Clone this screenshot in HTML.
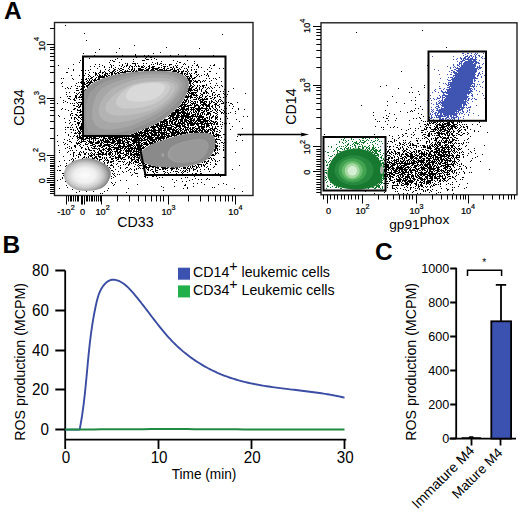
<!DOCTYPE html><html><head><meta charset="utf-8"><style>html,body{margin:0;padding:0;background:#fff;width:520px;height:515px;overflow:hidden;position:relative}</style></head><body><svg width="520" height="515" viewBox="0 0 520 515" style="position:absolute;left:0;top:0">
<defs><radialGradient id="sg" cx="0.45" cy="0.52" r="0.52"><stop offset="0" stop-color="#fdfdfd"/><stop offset="0.45" stop-color="#efefef"/><stop offset="0.72" stop-color="#cdcdcd"/><stop offset="0.9" stop-color="#a5a5a5"/><stop offset="1" stop-color="#868686"/></radialGradient>
<clipPath id="gclip"><rect x="83" y="56.5" width="142.5" height="79.5"/></clipPath></defs>
<rect width="520" height="515" fill="#fff"/>
<filter id="bl" x="0" y="0" width="1" height="1"><feGaussianBlur stdDeviation="0.35"/></filter>
<g transform="translate(0,0.5)" stroke-width="1" shape-rendering="crispEdges" fill="none" filter="url(#bl)">
<path d="M65 25h1M84 33h1M222 34h1M86 40h1M134 45h1M166 47h1M119 48h1M199 48h1M99 49h1M95 52h1M116 52h1M160 52h1M83 53h1M153 53h1M135 54h1M178 54h1M94 55h1M122 55h1M135 55h1M144 55h1M148 55h1M170 55h1M185 55h1M213 55h1M139 56h1M179 56h1M136 57h1M146 57h1M150 57h2M89 58h1M117 58h1M145 58h1M154 58h1M115 59h1M121 59h1M133 59h1M146 59h3M151 59h1M156 59h1M80 60h1M110 60h1M112 60h1M142 60h3M173 60h1M187 60h1M113 61h2M133 61h1M161 61h1M177 61h1M194 61h1M79 62h1M109 62h1M119 62h1M152 62h1M157 62h1M179 62h2M82 63h1M125 63h1M127 63h1M132 63h4M137 63h1M143 63h1M146 63h1M155 63h1M157 63h1M160 63h2M176 63h1M184 63h1M194 63h1M73 64h1M95 64h1M99 64h1M110 64h1M122 64h1M127 64h1M135 64h1M151 64h1M153 64h1M157 64h1M159 64h1M163 64h1M165 64h1M169 64h3M183 64h1M185 64h1M197 64h1M214 64h1M58 65h1M102 65h1M111 65h1M113 65h1M119 65h1M122 65h1M126 65h2M130 65h1M135 65h1M138 65h1M143 65h1M149 65h1M161 65h1M169 65h1M175 65h1M177 65h1M192 65h1M196 65h2M210 65h1M213 65h2M90 66h1M94 66h1M99 66h1M104 66h1M111 66h1M121 66h1M124 66h1M126 66h1M129 66h1M131 66h2M134 66h1M136 66h1M138 66h2M141 66h2M144 66h1M148 66h2M152 66h3M163 66h3M167 66h1M173 66h1M176 66h1M182 66h1M188 66h1M198 66h1M104 67h1M109 67h1M111 67h1M115 67h1M123 67h1M129 67h1M132 67h1M141 67h3M146 67h1M149 67h1M151 67h3M158 67h2M161 67h1M164 67h1M170 67h2M173 67h1M176 67h2M181 67h1M188 67h1M191 67h1M198 67h1M201 67h1M209 67h1M68 68h1M97 68h1M113 68h1M118 68h1M120 68h2M128 68h1M132 68h1M134 68h1M138 68h3M145 68h1M148 68h2M152 68h7M163 68h2M167 68h2M172 68h1M174 68h1M179 68h1M184 68h1M186 68h1M211 68h1M219 68h1M223 68h1M73 69h1M90 69h1M105 69h1M109 69h1M114 69h2M119 69h1M122 69h2M129 69h1M131 69h2M134 69h1M138 69h6M146 69h3M151 69h3M155 69h3M159 69h4M164 69h1M166 69h1M170 69h3M174 69h1M177 69h2M180 69h1M187 69h1M191 69h1M194 69h1M196 69h1M207 69h1M73 70h1M81 70h1M85 70h1M88 70h1M100 70h1M108 70h1M113 70h2M117 70h1M120 70h2M125 70h1M127 70h1M131 70h1M133 70h2M136 70h1M138 70h5M144 70h5M150 70h5M157 70h14M173 70h4M178 70h1M183 70h1M187 70h1M191 70h1M100 71h1M104 71h1M109 71h1M112 71h2M115 71h1M119 71h1M122 71h1M124 71h7M132 71h2M135 71h3M172 71h5M178 71h2M181 71h3M185 71h2M188 71h1M195 71h2M204 71h1M209 71h2M66 72h2M89 72h1M93 72h1M95 72h1M99 72h2M102 72h2M105 72h1M110 72h3M114 72h1M117 72h2M120 72h6M177 72h2M181 72h2M187 72h1M195 72h2M85 73h1M95 73h2M98 73h1M102 73h1M105 73h3M109 73h1M111 73h2M114 73h3M118 73h2M180 73h3M184 73h2M187 73h1M189 73h1M191 73h1M194 73h1M207 73h1M216 73h1M82 74h1M88 74h1M95 74h2M99 74h1M104 74h2M107 74h1M111 74h2M115 74h1M182 74h1M184 74h1M186 74h2M190 74h1M196 74h1M198 74h1M204 74h1M207 74h1M71 75h1M79 75h1M84 75h1M89 75h1M95 75h1M97 75h1M99 75h2M102 75h1M104 75h3M108 75h2M111 75h1M185 75h1M190 75h2M197 75h1M201 75h1M206 75h1M208 75h1M83 76h1M88 76h1M90 76h1M93 76h1M98 76h7M106 76h2M186 76h3M190 76h2M196 76h1M199 76h1M208 76h1M91 77h2M96 77h1M98 77h7M187 77h1M189 77h1M191 77h1M194 77h2M219 77h1M61 78h1M63 78h1M72 78h1M83 78h1M86 78h1M88 78h1M90 78h2M95 78h1M98 78h2M187 78h4M192 78h3M206 78h1M209 78h1M213 78h1M215 78h1M73 79h1M81 79h1M83 79h1M85 79h2M89 79h1M92 79h1M94 79h2M97 79h3M188 79h2M192 79h1M216 79h1M87 80h1M89 80h1M91 80h1M93 80h4M188 80h4M193 80h1M195 80h1M198 80h2M203 80h1M205 80h1M211 80h1M81 81h1M83 81h1M86 81h1M88 81h1M90 81h2M94 81h1M189 81h3M194 81h4M200 81h1M202 81h1M204 81h1M209 81h1M221 81h1M62 82h1M78 82h1M80 82h2M84 82h1M87 82h6M189 82h2M193 82h1M196 82h2M200 82h1M61 83h1M76 83h1M81 83h1M84 83h1M86 83h2M89 83h2M189 83h2M192 83h1M210 83h1M216 83h1M83 84h3M88 84h2M190 84h1M193 84h1M206 84h1M75 85h1M86 85h3M190 85h2M194 85h1M197 85h1M199 85h1M202 85h3M206 85h1M215 85h1M217 85h1M221 85h1M62 86h1M71 86h1M77 86h1M79 86h1M81 86h1M84 86h1M86 86h2M189 86h2M192 86h2M197 86h1M200 86h1M202 86h2M210 86h1M222 86h1M67 87h1M84 87h1M87 87h1M189 87h1M191 87h2M196 87h1M199 87h1M203 87h1M205 87h1M208 87h1M211 87h1M214 87h1M219 87h1M65 88h1M68 88h1M70 88h1M76 88h2M81 88h3M188 88h4M195 88h2M199 88h1M202 88h1M207 88h1M209 88h1M212 88h1M233 88h1M80 89h4M85 89h1M188 89h4M193 89h2M197 89h1M199 89h1M201 89h1M206 89h1M224 89h2M76 90h3M84 90h2M188 90h5M194 90h4M201 90h1M205 90h1M211 90h1M216 90h1M81 91h3M187 91h2M190 91h1M197 91h1M201 91h1M205 91h2M211 91h1M220 91h1M223 91h1M228 91h1M66 92h1M69 92h1M74 92h1M79 92h1M81 92h1M188 92h2M191 92h6M203 92h2M206 92h2M213 92h2M76 93h1M78 93h1M82 93h1M187 93h1M189 93h5M195 93h1M200 93h1M203 93h2M206 93h1M208 93h1M212 93h1M223 93h1M245 93h1M66 94h1M77 94h1M80 94h2M188 94h1M191 94h4M196 94h1M201 94h2M212 94h1M215 94h1M218 94h2M224 94h1M227 94h1M75 95h2M80 95h1M82 95h1M186 95h1M188 95h1M190 95h2M193 95h5M200 95h1M202 95h1M207 95h1M212 95h1M214 95h1M217 95h1M67 96h1M69 96h2M75 96h2M79 96h1M81 96h1M185 96h7M196 96h1M199 96h1M202 96h1M205 96h2M209 96h2M217 96h1M219 96h1M225 96h2M60 97h1M75 97h2M78 97h5M185 97h4M190 97h3M194 97h2M197 97h1M199 97h3M205 97h1M212 97h1M214 97h2M220 97h1M223 97h1M225 97h1M68 98h2M74 98h1M76 98h1M187 98h1M190 98h1M196 98h1M198 98h2M202 98h1M204 98h1M206 98h2M210 98h2M214 98h1M70 99h1M73 99h2M79 99h1M81 99h2M184 99h1M186 99h2M193 99h4M198 99h1M200 99h8M213 99h1M219 99h2M63 100h1M74 100h2M184 100h3M188 100h1M190 100h1M199 100h2M202 100h2M211 100h1M215 100h1M218 100h1M221 100h1M65 101h1M82 101h1M183 101h1M185 101h2M188 101h1M191 101h2M194 101h2M197 101h1M200 101h3M204 101h3M209 101h1M211 101h2M216 101h1M218 101h1M220 101h1M222 101h1M63 102h1M67 102h1M76 102h1M78 102h5M182 102h4M188 102h1M190 102h1M193 102h1M195 102h1M197 102h1M200 102h5M206 102h1M209 102h1M211 102h1M213 102h2M217 102h1M223 102h1M226 102h1M228 102h1M237 102h1M57 103h1M70 103h1M72 103h1M74 103h1M77 103h1M81 103h1M182 103h1M184 103h1M187 103h1M191 103h5M200 103h1M203 103h3M209 103h2M215 103h2M221 103h3M225 103h1M230 103h2M78 104h1M80 104h3M181 104h6M190 104h1M192 104h1M194 104h1M196 104h2M201 104h6M208 104h2M214 104h3M219 104h1M232 104h1M73 105h2M78 105h1M80 105h1M82 105h1M180 105h3M184 105h2M187 105h5M194 105h5M200 105h1M202 105h2M205 105h5M212 105h1M215 105h1M217 105h2M229 105h1M76 106h2M79 106h2M179 106h3M183 106h6M194 106h2M198 106h2M203 106h1M206 106h4M211 106h2M215 106h1M219 106h1M224 106h1M233 106h1M78 107h2M178 107h1M181 107h4M188 107h1M190 107h5M198 107h2M201 107h2M206 107h1M209 107h1M212 107h1M215 107h1M219 107h1M62 108h1M74 108h2M82 108h1M179 108h1M181 108h4M186 108h3M191 108h1M193 108h1M195 108h13M209 108h2M213 108h1M216 108h1M224 108h1M226 108h1M232 108h1M238 108h1M61 109h1M65 109h1M73 109h2M77 109h1M80 109h1M176 109h3M180 109h9M190 109h5M196 109h5M205 109h2M208 109h1M210 109h1M214 109h2M217 109h1M221 109h1M225 109h1M238 109h1M244 109h1M68 110h1M77 110h4M82 110h1M175 110h6M182 110h2M185 110h2M188 110h1M191 110h1M193 110h1M195 110h1M197 110h3M201 110h2M204 110h1M206 110h3M212 110h1M215 110h1M217 110h1M219 110h1M223 110h1M71 111h1M80 111h2M175 111h4M181 111h4M187 111h1M190 111h1M193 111h1M195 111h2M198 111h2M203 111h2M206 111h1M210 111h2M216 111h1M220 111h1M224 111h1M235 111h1M77 112h1M79 112h2M82 112h1M172 112h14M187 112h1M189 112h1M191 112h1M193 112h2M196 112h1M198 112h1M201 112h3M207 112h3M213 112h2M217 112h1M221 112h2M224 112h1M230 112h1M71 113h2M82 113h1M171 113h5M177 113h4M182 113h8M191 113h1M195 113h1M197 113h2M200 113h1M202 113h1M204 113h1M207 113h4M215 113h2M221 113h1M223 113h1M226 113h1M228 113h1M235 113h1M70 114h1M75 114h2M80 114h3M171 114h5M177 114h2M181 114h1M183 114h2M186 114h4M192 114h4M197 114h2M200 114h1M202 114h1M204 114h1M206 114h3M210 114h1M217 114h1M58 115h1M70 115h1M72 115h1M76 115h2M79 115h4M169 115h6M176 115h4M181 115h8M191 115h3M195 115h1M197 115h1M199 115h3M206 115h1M210 115h1M213 115h1M216 115h1M59 116h1M78 116h1M82 116h1M168 116h1M170 116h4M176 116h3M180 116h24M209 116h1M212 116h2M215 116h1M217 116h1M225 116h2M243 116h1M247 116h1M71 117h1M74 117h2M78 117h2M81 117h1M169 117h2M172 117h8M181 117h3M185 117h6M192 117h1M196 117h1M198 117h6M206 117h2M209 117h1M211 117h2M215 117h3M64 118h1M71 118h1M74 118h1M76 118h1M80 118h1M168 118h3M172 118h2M175 118h3M181 118h3M185 118h1M187 118h2M190 118h3M194 118h1M197 118h3M202 118h1M204 118h2M207 118h1M209 118h1M211 118h1M215 118h2M220 118h1M225 118h1M227 118h1M74 119h1M77 119h1M81 119h2M164 119h4M170 119h2M173 119h5M179 119h4M184 119h3M189 119h3M193 119h2M197 119h9M209 119h1M215 119h1M217 119h1M220 119h1M236 119h1M69 120h1M78 120h1M82 120h1M163 120h4M169 120h2M172 120h3M176 120h1M178 120h1M180 120h3M184 120h5M190 120h5M196 120h5M203 120h6M210 120h2M225 120h1M74 121h2M80 121h1M82 121h1M160 121h8M169 121h4M175 121h2M178 121h1M180 121h3M184 121h3M188 121h4M193 121h1M195 121h2M198 121h10M209 121h1M211 121h3M215 121h2M220 121h1M239 121h1M65 122h1M70 122h1M77 122h3M160 122h5M166 122h2M169 122h1M171 122h2M174 122h2M178 122h3M182 122h3M186 122h2M189 122h4M194 122h2M197 122h1M200 122h4M205 122h1M207 122h1M210 122h1M213 122h3M217 122h1M222 122h1M69 123h1M77 123h3M81 123h2M157 123h2M160 123h1M162 123h1M164 123h4M169 123h1M171 123h2M174 123h2M177 123h8M187 123h16M204 123h9M214 123h1M216 123h2M224 123h1M226 123h1M229 123h1M72 124h1M75 124h1M78 124h1M81 124h2M155 124h4M160 124h5M166 124h2M170 124h1M172 124h6M179 124h1M181 124h2M184 124h2M187 124h2M190 124h5M196 124h3M201 124h4M206 124h3M211 124h1M213 124h2M216 124h2M220 124h1M222 124h1M71 125h1M78 125h1M81 125h2M153 125h1M156 125h7M164 125h8M175 125h6M182 125h3M187 125h2M190 125h4M197 125h2M201 125h1M204 125h1M206 125h4M211 125h1M76 126h1M80 126h3M151 126h7M159 126h8M171 126h3M176 126h5M182 126h4M188 126h1M195 126h1M198 126h7M206 126h3M212 126h1M215 126h1M217 126h2M221 126h1M232 126h1M65 127h1M67 127h2M70 127h1M72 127h1M76 127h1M79 127h4M148 127h1M150 127h6M157 127h2M160 127h2M163 127h1M165 127h7M174 127h3M179 127h2M184 127h5M190 127h1M192 127h3M198 127h2M201 127h4M206 127h1M209 127h1M212 127h1M215 127h1M77 128h1M79 128h4M145 128h4M152 128h3M158 128h8M167 128h5M173 128h1M175 128h1M178 128h1M180 128h2M183 128h1M185 128h1M187 128h1M189 128h2M192 128h2M195 128h5M201 128h3M210 128h3M214 128h3M221 128h1M242 128h1M65 129h1M70 129h2M73 129h1M77 129h1M80 129h3M143 129h1M145 129h3M149 129h1M151 129h1M153 129h3M158 129h4M164 129h2M167 129h8M176 129h2M179 129h2M182 129h2M185 129h4M190 129h3M194 129h1M196 129h2M199 129h2M202 129h3M206 129h1M208 129h3M212 129h3M217 129h1M230 129h1M73 130h1M75 130h1M78 130h1M80 130h1M142 130h1M144 130h18M163 130h3M167 130h3M172 130h5M178 130h1M180 130h2M184 130h3M188 130h1M190 130h1M192 130h2M195 130h2M198 130h5M204 130h2M207 130h2M210 130h2M213 130h2M219 130h1M78 131h2M81 131h1M138 131h1M140 131h2M144 131h5M151 131h5M158 131h2M161 131h1M164 131h1M166 131h1M169 131h2M172 131h2M175 131h4M180 131h1M182 131h1M184 131h1M186 131h1M189 131h9M199 131h1M201 131h2M204 131h5M212 131h1M214 131h1M216 131h2M220 131h1M65 132h1M71 132h1M75 132h1M77 132h1M79 132h2M82 132h1M136 132h1M138 132h8M147 132h1M149 132h3M153 132h14M170 132h10M181 132h7M189 132h4M194 132h5M200 132h4M205 132h3M210 132h1M212 132h2M219 132h1M74 133h3M78 133h3M82 133h1M134 133h4M139 133h4M144 133h5M150 133h3M154 133h3M158 133h1M160 133h5M166 133h4M171 133h5M177 133h9M187 133h1M209 133h2M212 133h2M216 133h1M68 134h1M79 134h1M82 134h1M131 134h3M135 134h5M141 134h1M143 134h3M147 134h2M151 134h6M158 134h2M161 134h6M168 134h1M171 134h4M176 134h3M180 134h2M213 134h1M215 134h4M223 134h2M241 134h1M57 135h1M68 135h1M74 135h1M77 135h1M79 135h1M81 135h2M127 135h1M129 135h2M133 135h4M138 135h9M148 135h2M151 135h9M161 135h2M164 135h1M166 135h4M171 135h6M213 135h2M216 135h5M240 135h1M70 136h1M73 136h1M76 136h2M79 136h2M82 136h9M93 136h3M97 136h7M106 136h3M110 136h5M117 136h3M122 136h6M129 136h2M132 136h1M135 136h3M139 136h1M141 136h3M145 136h7M154 136h1M157 136h2M160 136h6M167 136h5M174 136h1M214 136h3M218 136h1M237 136h1M77 137h7M86 137h2M89 137h3M93 137h3M99 137h1M101 137h1M103 137h2M108 137h5M114 137h9M124 137h1M126 137h1M128 137h1M132 137h5M138 137h1M140 137h1M142 137h1M144 137h2M147 137h7M155 137h10M166 137h3M218 137h1M221 137h1M72 138h1M77 138h1M79 138h5M85 138h5M91 138h8M103 138h4M108 138h3M112 138h6M119 138h1M122 138h8M131 138h1M134 138h8M143 138h2M147 138h6M155 138h10M166 138h1M216 138h1M64 139h1M69 139h1M78 139h1M81 139h5M89 139h1M91 139h1M93 139h1M95 139h1M100 139h1M102 139h2M105 139h1M107 139h1M109 139h5M115 139h2M118 139h3M122 139h1M125 139h2M128 139h4M133 139h4M138 139h2M141 139h2M144 139h4M149 139h8M158 139h3M163 139h1M215 139h5M224 139h1M67 140h1M77 140h1M81 140h1M83 140h1M87 140h1M89 140h1M93 140h1M95 140h1M98 140h1M100 140h4M105 140h4M110 140h1M112 140h3M116 140h7M124 140h1M126 140h2M131 140h7M139 140h7M147 140h2M150 140h5M156 140h1M158 140h1M160 140h2M215 140h1M220 140h1M236 140h1M242 140h1M57 141h1M69 141h2M79 141h1M81 141h5M88 141h4M93 141h1M97 141h3M101 141h1M103 141h7M112 141h4M117 141h4M122 141h3M127 141h3M132 141h5M138 141h1M141 141h1M146 141h1M148 141h2M152 141h4M157 141h1M215 141h2M225 141h1M63 142h1M71 142h1M76 142h1M78 142h1M80 142h2M86 142h1M89 142h5M95 142h5M101 142h2M104 142h11M117 142h4M122 142h2M125 142h4M130 142h1M133 142h8M143 142h4M149 142h4M154 142h2M215 142h2M221 142h2M224 142h1M65 143h1M76 143h4M85 143h1M88 143h1M90 143h3M95 143h4M100 143h2M103 143h1M107 143h1M111 143h3M115 143h10M127 143h2M132 143h3M136 143h1M138 143h2M141 143h2M144 143h4M149 143h5M217 143h1M219 143h1M223 143h1M64 144h1M67 144h1M77 144h1M80 144h1M85 144h3M92 144h3M100 144h2M104 144h7M114 144h2M117 144h1M119 144h1M123 144h2M126 144h1M128 144h4M133 144h1M136 144h4M141 144h1M143 144h6M150 144h1M215 144h1M225 144h1M58 145h1M74 145h2M79 145h1M83 145h1M90 145h3M95 145h1M98 145h4M103 145h7M111 145h2M114 145h1M116 145h1M118 145h3M123 145h2M127 145h6M134 145h1M136 145h7M146 145h2M215 145h3M223 145h1M69 146h1M74 146h2M80 146h1M87 146h1M93 146h3M97 146h1M99 146h2M102 146h3M108 146h3M113 146h1M118 146h13M133 146h1M135 146h1M137 146h5M143 146h1M145 146h1M215 146h3M219 146h1M225 146h1M67 147h1M71 147h1M75 147h1M81 147h2M88 147h1M91 147h1M94 147h1M101 147h2M106 147h1M109 147h1M111 147h10M122 147h2M125 147h2M128 147h1M130 147h3M134 147h2M137 147h4M142 147h3M215 147h2M223 147h1M65 148h1M69 148h1M71 148h1M81 148h1M85 148h1M88 148h1M92 148h5M98 148h2M103 148h1M105 148h2M108 148h3M114 148h5M120 148h3M124 148h2M127 148h12M140 148h4M215 148h3M85 149h2M88 149h2M97 149h1M99 149h1M102 149h3M107 149h5M113 149h2M116 149h5M124 149h1M126 149h1M128 149h2M131 149h2M134 149h1M136 149h4M141 149h1M214 149h2M217 149h1M219 149h1M223 149h1M59 150h1M70 150h1M72 150h1M76 150h1M89 150h3M93 150h2M99 150h3M103 150h1M105 150h1M108 150h2M111 150h1M116 150h2M120 150h2M123 150h1M125 150h7M133 150h2M136 150h1M138 150h4M214 150h2M217 150h1M223 150h1M225 150h1M68 151h1M80 151h1M83 151h1M94 151h1M98 151h1M100 151h2M106 151h3M110 151h1M112 151h1M114 151h4M119 151h2M125 151h7M133 151h6M214 151h1M59 152h1M67 152h1M73 152h2M79 152h1M81 152h1M83 152h1M86 152h1M91 152h1M95 152h1M97 152h2M101 152h3M106 152h1M109 152h3M115 152h1M117 152h4M123 152h1M126 152h1M128 152h1M130 152h1M132 152h2M136 152h1M138 152h2M215 152h1M217 152h1M235 152h1M73 153h1M79 153h1M84 153h2M88 153h1M90 153h1M92 153h1M94 153h1M98 153h3M102 153h2M105 153h2M108 153h3M112 153h1M115 153h1M117 153h2M120 153h4M126 153h3M130 153h2M134 153h5M215 153h2M218 153h1M70 154h1M73 154h1M78 154h3M84 154h2M88 154h1M91 154h1M93 154h2M96 154h11M108 154h3M112 154h1M115 154h1M117 154h1M119 154h1M124 154h3M128 154h1M130 154h10M212 154h2M215 154h1M73 155h1M76 155h1M80 155h1M89 155h4M94 155h1M98 155h1M102 155h1M106 155h1M109 155h1M111 155h1M114 155h1M118 155h3M123 155h1M125 155h3M130 155h2M133 155h2M136 155h4M211 155h4M63 156h1M73 156h1M78 156h1M84 156h1M88 156h1M90 156h2M95 156h2M98 156h3M110 156h1M112 156h2M115 156h1M118 156h3M125 156h1M128 156h2M132 156h1M134 156h2M137 156h1M139 156h1M78 157h1M83 157h2M86 157h1M88 157h1M92 157h1M94 157h3M99 157h2M102 157h1M104 157h1M106 157h1M109 157h2M115 157h6M122 157h3M128 157h2M131 157h1M133 157h2M136 157h4M210 157h1M223 157h2M72 158h1M75 158h1M82 158h1M92 158h3M96 158h2M102 158h1M104 158h1M106 158h1M111 158h3M115 158h2M118 158h1M120 158h3M128 158h1M130 158h2M134 158h1M138 158h2M208 158h2M211 158h1M213 158h1M225 158h1M71 159h1M73 159h1M97 159h1M99 159h3M105 159h1M107 159h1M111 159h2M117 159h2M121 159h1M123 159h3M131 159h4M136 159h3M140 159h1M211 159h1M214 159h1M64 160h1M69 160h1M73 160h1M99 160h1M104 160h1M106 160h3M113 160h1M116 160h1M131 160h2M135 160h1M137 160h2M140 160h1M208 160h1M212 160h1M215 160h1M219 160h1M59 161h1M72 161h1M103 161h1M108 161h1M110 161h4M118 161h3M122 161h1M124 161h1M129 161h1M131 161h1M134 161h3M138 161h1M141 161h1M204 161h2M207 161h2M215 161h1M217 161h1M104 162h1M107 162h2M110 162h2M123 162h1M127 162h1M129 162h2M133 162h1M135 162h4M141 162h1M202 162h1M204 162h1M206 162h1M210 162h1M66 163h1M104 163h1M107 163h1M113 163h1M117 163h1M126 163h1M129 163h1M131 163h1M133 163h1M139 163h2M142 163h3M206 163h2M215 163h1M111 164h1M116 164h1M123 164h1M125 164h1M128 164h2M135 164h1M138 164h1M143 164h1M145 164h2M197 164h5M203 164h1M205 164h1M210 164h1M215 164h2M60 165h1M66 165h1M107 165h1M110 165h3M120 165h1M128 165h1M137 165h1M139 165h3M144 165h2M148 165h3M192 165h1M195 165h1M198 165h1M201 165h1M203 165h2M239 165h1M58 166h1M65 166h1M113 166h1M118 166h1M134 166h1M138 166h1M143 166h4M149 166h7M157 166h1M188 166h1M190 166h1M192 166h3M196 166h1M198 166h1M201 166h1M204 166h1M207 166h1M214 166h1M109 167h1M113 167h1M120 167h1M126 167h2M139 167h1M145 167h5M152 167h2M155 167h4M161 167h5M167 167h2M171 167h3M175 167h3M179 167h1M183 167h3M187 167h1M190 167h1M192 167h1M196 167h2M199 167h1M206 167h1M213 167h1M110 168h1M120 168h1M125 168h1M130 168h1M136 168h1M138 168h1M140 168h1M142 168h2M146 168h1M148 168h1M155 168h1M157 168h2M162 168h6M170 168h5M176 168h2M181 168h1M183 168h3M187 168h3M191 168h1M193 168h1M196 168h1M208 168h1M115 169h1M129 169h1M131 169h1M134 169h1M136 169h1M144 169h1M147 169h2M151 169h2M155 169h1M159 169h2M162 169h2M165 169h1M171 169h2M176 169h1M178 169h1M186 169h1M189 169h1M193 169h3M200 169h1M204 169h1M208 169h1M210 169h1M232 169h1M57 170h1M59 170h2M111 170h2M128 170h1M134 170h1M148 170h1M150 170h1M155 170h3M167 170h1M171 170h1M180 170h1M183 170h1M185 170h1M187 170h1M189 170h1M193 170h1M197 170h1M113 171h1M118 171h1M122 171h1M126 171h1M152 171h2M155 171h1M163 171h2M173 171h1M175 171h3M182 171h1M184 171h2M189 171h1M197 171h1M200 171h1M209 171h1M123 172h1M130 172h1M134 172h1M147 172h1M153 172h1M156 172h2M165 172h1M167 172h1M170 172h1M178 172h1M181 172h1M183 172h1M187 172h1M62 173h2M112 173h1M114 173h1M135 173h3M154 173h1M164 173h1M168 173h1M176 173h1M182 173h1M192 173h1M195 173h2M200 173h2M215 173h1M218 173h1M113 174h1M117 174h1M119 174h1M132 174h1M144 174h1M149 174h1M160 174h1M162 174h1M174 174h1M176 174h2M184 174h1M189 174h1M191 174h1M195 174h1M197 174h1M216 174h1M218 174h1M222 174h2M63 175h1M114 175h1M131 175h1M149 175h1M153 175h1M155 175h1M162 175h1M168 175h1M171 175h1M174 175h1M180 175h1M185 175h1M192 175h1M197 175h1M111 176h1M115 176h1M137 176h1M144 176h2M152 176h2M156 176h1M194 176h1M220 176h1M62 177h1M113 177h1M145 177h1M147 177h1M159 177h1M162 177h1M185 177h1M187 177h1M62 178h1M111 178h1M157 178h1M181 178h1M195 178h1M207 178h1M60 179h1M172 179h1M192 179h1M198 179h1M201 179h1M206 179h1M209 179h1M57 180h1M120 180h1M126 180h1M176 180h1M189 180h1M65 181h1M182 181h1M186 181h1M111 182h1M115 182h1M174 182h1M201 182h1M112 183h1M193 183h1M197 183h1M223 183h1M114 184h1M137 184h1M185 184h1M204 184h1M218 184h1M226 184h1M66 185h1M113 185h1M184 185h2M161 186h1M174 186h1M193 186h1M67 187h1M163 187h1M187 187h1M212 187h1M214 187h1M59 188h1M108 188h1M128 188h1M183 188h1M187 188h1M234 188h1M72 189h1M107 190h1M163 190h1M79 191h1M86 191h1M93 191h1M104 191h1M242 191h1M76 192h1M126 192h1M100 193h1M102 193h1" stroke="#000"/>
<path d="M422 30h1M356 32h1M446 47h1M427 65h1M401 71h1M386 85h1M424 85h1M380 86h1M411 87h1M424 87h1M398 88h1M418 91h1M409 92h1M412 92h1M419 94h1M392 96h1M415 97h1M411 100h1M415 100h1M427 100h1M387 101h1M396 102h1M404 103h1M415 104h1M361 105h1M387 105h1M420 106h1M415 108h1M418 108h1M422 109h1M385 110h1M411 110h1M414 110h1M400 111h1M410 111h1M412 111h1M373 112h1M407 112h1M389 113h1M418 113h1M394 114h1M421 114h1M373 115h1M386 115h1M388 116h1M423 116h1M383 117h1M419 117h1M429 117h1M386 118h2M396 118h1M413 118h1M416 118h1M420 118h1M375 119h1M428 119h2M388 120h1M395 120h1M409 120h1M421 120h1M432 120h1M438 120h1M440 120h1M446 120h2M449 120h2M453 120h1M455 120h1M459 120h1M464 120h1M377 121h1M379 121h1M385 121h1M423 121h1M425 121h1M427 121h1M437 121h1M439 121h1M441 121h2M446 121h1M449 121h3M453 121h1M458 121h2M464 121h1M429 122h1M431 122h1M433 122h3M437 122h1M440 122h1M443 122h1M447 122h3M451 122h3M457 122h1M459 122h1M461 122h1M479 122h1M419 123h1M427 123h1M429 123h2M432 123h2M436 123h1M439 123h1M442 123h1M444 123h6M452 123h2M457 123h1M387 124h1M409 124h1M424 124h2M427 124h2M435 124h1M437 124h4M442 124h4M447 124h4M453 124h4M459 124h1M462 124h1M464 124h1M466 124h1M472 124h1M477 124h1M426 125h1M428 125h1M430 125h1M436 125h2M439 125h5M446 125h4M451 125h4M457 125h1M460 125h1M375 126h1M394 126h1M420 126h1M425 126h1M434 126h1M436 126h2M441 126h6M448 126h1M450 126h7M461 126h1M463 126h1M466 126h2M480 126h1M381 127h1M383 127h1M390 127h1M393 127h1M397 127h1M426 127h2M429 127h2M435 127h3M439 127h6M447 127h1M449 127h1M451 127h2M454 127h2M457 127h1M460 127h1M463 127h2M467 127h1M410 128h1M415 128h1M418 128h1M424 128h1M426 128h1M430 128h1M434 128h2M437 128h2M440 128h1M442 128h2M445 128h1M447 128h2M450 128h3M455 128h2M459 128h1M467 128h1M383 129h1M401 129h1M408 129h1M424 129h3M431 129h6M438 129h1M440 129h6M448 129h3M452 129h1M458 129h1M461 129h1M464 129h2M470 129h1M406 130h1M415 130h1M421 130h3M433 130h1M435 130h1M437 130h1M439 130h3M444 130h4M449 130h1M453 130h1M457 130h1M459 130h2M465 130h1M474 130h1M427 131h1M430 131h5M438 131h1M440 131h1M442 131h3M447 131h3M451 131h1M453 131h2M458 131h2M474 131h1M478 131h1M413 132h1M421 132h2M425 132h1M429 132h1M436 132h4M441 132h1M446 132h3M450 132h1M453 132h1M458 132h1M461 132h1M467 132h1M487 132h1M405 133h2M428 133h2M431 133h1M434 133h2M437 133h8M446 133h2M449 133h1M451 133h2M456 133h2M463 133h2M468 133h1M324 134h1M374 134h1M402 134h1M411 134h1M414 134h1M423 134h3M428 134h2M431 134h1M438 134h2M441 134h2M444 134h2M447 134h1M449 134h1M451 134h2M458 134h2M462 134h1M467 134h1M389 135h1M398 135h1M403 135h1M413 135h1M422 135h1M427 135h3M432 135h1M434 135h1M436 135h4M445 135h1M447 135h3M452 135h3M456 135h1M460 135h2M381 136h1M392 136h1M402 136h1M407 136h1M424 136h1M428 136h2M439 136h2M442 136h1M448 136h1M453 136h1M470 136h1M384 137h2M399 137h1M411 137h1M425 137h2M435 137h1M437 137h2M440 137h2M443 137h3M447 137h2M450 137h2M454 137h2M392 138h1M398 138h1M416 138h1M418 138h1M422 138h1M424 138h1M427 138h1M431 138h1M433 138h1M435 138h3M442 138h7M452 138h1M456 138h2M468 138h1M394 139h1M428 139h1M431 139h1M435 139h2M442 139h1M446 139h1M449 139h1M452 139h3M467 139h1M394 140h1M396 140h1M403 140h1M405 140h1M416 140h2M420 140h1M429 140h1M434 140h3M439 140h1M441 140h1M443 140h1M445 140h3M449 140h1M452 140h2M455 140h2M458 140h1M464 140h1M388 141h1M390 141h2M394 141h1M410 141h1M417 141h1M426 141h2M429 141h1M436 141h1M438 141h1M441 141h1M444 141h3M448 141h1M450 141h3M392 142h1M399 142h1M403 142h1M405 142h1M409 142h1M426 142h1M429 142h1M432 142h1M435 142h1M437 142h4M442 142h5M448 142h4M455 142h1M463 142h1M466 142h1M468 142h1M385 143h1M387 143h1M399 143h2M404 143h1M408 143h1M410 143h1M412 143h1M417 143h2M426 143h1M431 143h1M435 143h1M437 143h1M439 143h2M444 143h1M448 143h1M450 143h1M452 143h1M454 143h1M456 143h1M458 143h2M461 143h1M463 143h1M395 144h1M400 144h1M402 144h2M406 144h1M410 144h1M412 144h2M430 144h1M432 144h1M434 144h3M438 144h3M445 144h3M453 144h1M462 144h1M397 145h1M399 145h1M404 145h1M409 145h2M412 145h5M420 145h1M422 145h3M427 145h1M429 145h1M431 145h2M434 145h1M436 145h2M439 145h2M442 145h1M444 145h3M448 145h1M450 145h4M459 145h1M466 145h1M484 145h1M387 146h1M389 146h2M393 146h1M402 146h1M407 146h1M416 146h1M418 146h1M423 146h3M427 146h1M429 146h2M432 146h2M435 146h1M437 146h2M441 146h2M445 146h1M447 146h2M451 146h2M454 146h1M458 146h1M465 146h1M389 147h1M396 147h2M400 147h1M402 147h1M408 147h1M410 147h1M413 147h1M416 147h1M421 147h1M423 147h3M427 147h4M434 147h1M436 147h2M440 147h10M451 147h2M455 147h1M398 148h1M400 148h1M403 148h1M406 148h1M411 148h1M427 148h5M435 148h5M442 148h3M446 148h1M448 148h1M450 148h1M453 148h2M456 148h1M458 148h2M461 148h1M474 148h1M385 149h2M389 149h2M393 149h1M398 149h2M403 149h1M406 149h2M414 149h2M422 149h2M425 149h1M430 149h1M434 149h3M438 149h2M441 149h2M444 149h2M447 149h3M451 149h1M454 149h1M457 149h1M459 149h2M468 149h1M388 150h1M394 150h1M402 150h1M404 150h2M409 150h1M416 150h1M418 150h3M426 150h3M431 150h2M436 150h4M441 150h4M448 150h1M451 150h1M453 150h2M458 150h1M474 150h1M387 151h2M391 151h1M394 151h2M403 151h2M406 151h1M410 151h1M413 151h2M416 151h1M418 151h2M421 151h1M424 151h1M428 151h1M430 151h3M434 151h4M439 151h3M443 151h8M452 151h1M454 151h1M456 151h1M462 151h1M470 151h1M385 152h1M387 152h1M389 152h1M391 152h2M395 152h1M397 152h3M403 152h1M407 152h2M411 152h2M414 152h1M416 152h1M418 152h1M421 152h2M424 152h1M426 152h1M429 152h2M433 152h7M441 152h6M448 152h2M453 152h1M455 152h1M457 152h1M459 152h1M461 152h1M463 152h1M471 152h1M386 153h1M389 153h2M393 153h1M395 153h2M398 153h2M402 153h1M405 153h2M409 153h3M415 153h1M419 153h6M426 153h2M429 153h2M434 153h1M436 153h1M438 153h2M442 153h2M445 153h1M448 153h2M451 153h1M454 153h1M459 153h1M468 153h1M475 153h1M385 154h2M391 154h1M395 154h1M397 154h1M399 154h1M401 154h3M405 154h3M410 154h3M414 154h1M416 154h1M419 154h1M421 154h6M428 154h4M434 154h2M437 154h5M443 154h5M449 154h1M452 154h1M457 154h1M462 154h2M482 154h1M387 155h3M393 155h1M399 155h1M401 155h1M406 155h3M410 155h3M415 155h4M421 155h1M423 155h2M426 155h1M428 155h2M431 155h5M438 155h7M446 155h8M456 155h4M467 155h1M385 156h2M390 156h1M394 156h1M397 156h1M400 156h2M404 156h2M407 156h8M417 156h1M419 156h4M424 156h2M428 156h4M433 156h1M435 156h3M440 156h7M448 156h2M452 156h2M456 156h1M459 156h1M463 156h1M477 156h1M388 157h2M391 157h2M394 157h1M398 157h1M402 157h2M405 157h2M410 157h4M415 157h2M419 157h3M426 157h2M430 157h1M432 157h2M435 157h7M444 157h1M447 157h2M451 157h1M453 157h1M455 157h5M463 157h1M475 157h1M388 158h2M391 158h2M398 158h1M400 158h3M404 158h1M406 158h1M410 158h3M414 158h4M419 158h2M422 158h3M426 158h6M433 158h1M435 158h1M437 158h2M440 158h2M443 158h1M445 158h2M448 158h3M452 158h1M454 158h1M456 158h1M472 158h1M386 159h3M394 159h1M396 159h3M402 159h1M404 159h1M408 159h2M411 159h1M413 159h1M416 159h1M418 159h1M421 159h1M423 159h2M428 159h2M433 159h6M440 159h5M446 159h2M450 159h1M454 159h1M457 159h2M384 160h2M388 160h1M391 160h1M393 160h4M398 160h1M400 160h1M403 160h2M406 160h3M410 160h1M412 160h3M417 160h8M426 160h5M432 160h1M434 160h1M436 160h1M438 160h2M441 160h2M444 160h8M454 160h1M459 160h1M471 160h1M387 161h1M389 161h1M392 161h1M394 161h1M396 161h3M400 161h4M405 161h1M407 161h1M409 161h1M411 161h1M413 161h4M418 161h6M426 161h2M429 161h1M431 161h5M437 161h1M439 161h1M441 161h2M445 161h1M447 161h1M449 161h2M452 161h4M458 161h1M470 161h1M480 161h1M387 162h5M394 162h3M399 162h1M401 162h2M404 162h2M407 162h1M409 162h1M411 162h4M416 162h3M420 162h5M426 162h1M428 162h7M436 162h1M438 162h1M440 162h2M444 162h4M452 162h1M454 162h1M456 162h1M386 163h1M389 163h1M391 163h4M396 163h20M417 163h1M421 163h1M423 163h1M425 163h1M427 163h3M432 163h2M435 163h2M438 163h3M442 163h4M447 163h1M451 163h1M453 163h2M457 163h1M461 163h1M384 164h1M386 164h3M390 164h1M392 164h4M397 164h1M400 164h1M404 164h6M412 164h2M417 164h2M420 164h3M424 164h7M432 164h2M437 164h1M439 164h2M445 164h9M455 164h1M459 164h1M461 164h1M385 165h4M391 165h4M397 165h1M399 165h1M401 165h6M411 165h2M414 165h4M419 165h2M422 165h1M424 165h4M429 165h2M432 165h1M434 165h2M437 165h1M441 165h5M447 165h2M452 165h2M457 165h1M463 165h1M384 166h5M390 166h3M397 166h2M400 166h2M403 166h2M407 166h2M410 166h1M414 166h3M418 166h1M421 166h1M423 166h1M425 166h3M429 166h3M433 166h2M436 166h1M438 166h1M440 166h2M443 166h1M445 166h6M453 166h1M459 166h2M465 166h1M385 167h6M392 167h2M396 167h8M405 167h5M411 167h1M413 167h3M420 167h5M427 167h5M433 167h1M436 167h4M444 167h4M450 167h1M454 167h1M466 167h1M470 167h1M385 168h2M388 168h2M391 168h4M396 168h7M404 168h2M408 168h1M410 168h1M415 168h2M418 168h2M421 168h6M428 168h8M437 168h2M443 168h3M447 168h1M449 168h1M451 168h1M459 168h1M461 168h1M466 168h1M384 169h5M390 169h1M392 169h2M395 169h3M399 169h9M409 169h2M412 169h3M416 169h3M421 169h4M427 169h1M429 169h6M437 169h3M441 169h1M445 169h2M450 169h2M456 169h1M458 169h1M461 169h1M489 169h1M384 170h3M388 170h1M391 170h1M393 170h4M398 170h2M401 170h2M404 170h3M409 170h7M417 170h1M419 170h2M422 170h1M424 170h2M427 170h1M429 170h2M433 170h1M435 170h4M440 170h4M445 170h1M447 170h4M452 170h1M454 170h2M384 171h1M386 171h1M391 171h1M394 171h4M399 171h1M401 171h3M405 171h2M408 171h1M410 171h2M415 171h3M421 171h1M426 171h2M429 171h4M434 171h1M437 171h3M441 171h1M443 171h2M447 171h1M449 171h1M451 171h2M454 171h1M463 171h1M385 172h1M387 172h5M393 172h3M398 172h3M402 172h7M410 172h3M415 172h1M418 172h5M424 172h3M428 172h2M431 172h2M436 172h2M442 172h1M444 172h5M452 172h1M454 172h1M456 172h1M459 172h1M464 172h1M469 172h1M471 172h1M386 173h1M389 173h4M395 173h4M401 173h4M408 173h1M411 173h1M415 173h2M418 173h1M420 173h6M428 173h9M438 173h4M443 173h1M447 173h1M449 173h1M453 173h1M456 173h1M464 173h1M384 174h6M391 174h4M399 174h4M404 174h2M407 174h4M412 174h1M415 174h1M417 174h1M419 174h9M429 174h7M437 174h1M439 174h1M444 174h1M446 174h4M458 174h1M384 175h1M387 175h1M389 175h2M393 175h2M397 175h2M400 175h1M402 175h2M407 175h2M411 175h3M415 175h1M417 175h2M420 175h2M423 175h2M427 175h4M432 175h2M435 175h1M439 175h2M442 175h1M444 175h1M447 175h1M456 175h1M384 176h4M389 176h4M396 176h1M398 176h1M400 176h1M402 176h2M405 176h5M411 176h3M415 176h2M418 176h2M422 176h1M425 176h3M429 176h4M434 176h2M437 176h6M445 176h1M448 176h3M452 176h1M455 176h1M388 177h1M390 177h1M392 177h2M398 177h2M401 177h2M405 177h5M411 177h1M413 177h1M416 177h2M419 177h3M425 177h3M430 177h3M434 177h3M439 177h1M442 177h1M445 177h1M447 177h1M452 177h2M462 177h2M384 178h3M389 178h2M396 178h1M399 178h2M403 178h3M407 178h1M409 178h2M412 178h3M418 178h5M424 178h1M426 178h2M429 178h4M434 178h6M442 178h4M449 178h2M454 178h1M385 179h2M389 179h2M394 179h1M396 179h6M403 179h1M405 179h3M410 179h1M413 179h3M417 179h1M420 179h6M427 179h1M431 179h2M437 179h1M440 179h1M443 179h2M448 179h1M455 179h1M460 179h1M462 179h1M385 180h1M390 180h3M397 180h4M402 180h5M408 180h5M414 180h1M417 180h2M421 180h2M424 180h1M427 180h6M434 180h1M437 180h1M439 180h2M442 180h1M444 180h2M447 180h1M385 181h3M389 181h1M394 181h1M396 181h5M402 181h1M404 181h2M407 181h7M416 181h1M420 181h1M423 181h2M426 181h5M435 181h1M439 181h2M443 181h1M446 181h1M456 181h1M392 182h3M399 182h1M401 182h1M405 182h3M409 182h4M416 182h1M419 182h4M424 182h1M426 182h5M432 182h1M438 182h1M452 182h1M384 183h1M386 183h3M393 183h1M397 183h1M399 183h1M402 183h2M405 183h4M411 183h1M414 183h3M421 183h1M423 183h2M426 183h3M430 183h1M434 183h1M440 183h1M448 183h1M467 183h1M397 184h1M401 184h1M404 184h5M410 184h1M415 184h2M418 184h1M420 184h2M426 184h1M429 184h1M433 184h1M435 184h2M438 184h1M440 184h1M446 184h1M450 184h1M452 184h1M459 184h1M387 185h1M392 185h7M401 185h3M407 185h1M410 185h1M416 185h1M418 185h1M420 185h3M431 185h1M433 185h2M392 186h1M406 186h1M415 186h1M418 186h2M421 186h2M425 186h1M427 186h1M430 186h1M432 186h1M440 186h1M458 186h1M387 187h1M392 187h1M396 187h1M404 187h1M407 187h1M410 187h2M413 187h1M418 187h1M423 187h1M426 187h1M430 187h1M452 187h1M454 187h1M466 187h1M385 188h1M392 188h3M397 188h1M400 188h1M410 188h1M415 188h1M417 188h1M419 188h1M441 188h1M446 188h1M464 188h1M385 189h1M395 189h1M403 189h1M405 189h1M410 189h1M419 189h1M421 189h2M427 189h2M432 189h1M447 189h2M452 189h1M364 190h1M384 190h1M406 190h1M408 190h1M415 190h2M423 190h1M425 190h1M427 190h1M430 190h1M436 190h1M447 190h1M452 190h1M365 191h1M385 191h1M395 191h1M397 191h1M413 191h1M423 191h1M425 191h1M431 191h1M384 192h1M412 192h1M429 192h1M438 192h1M440 192h1M374 193h1M398 193h1M403 193h1M407 193h1M417 193h1M420 193h1M436 193h1M453 193h1" stroke="#000"/>
<path d="M462 53h2M467 53h2M471 53h1M475 53h1M477 53h1M483 53h1M465 54h1M474 54h1M476 54h1M463 55h1M467 55h1M470 55h2M475 55h1M478 55h2M432 56h1M453 56h1M465 56h3M469 56h1M471 56h1M473 56h1M475 56h1M479 56h1M482 56h1M460 57h1M464 57h2M468 57h2M472 57h1M475 57h2M481 57h1M457 58h1M460 58h2M463 58h3M467 58h2M470 58h3M475 58h1M482 58h1M484 58h1M453 59h1M456 59h1M461 59h1M463 59h1M465 59h12M462 60h3M468 60h4M473 60h3M479 60h1M457 61h1M460 61h3M465 61h12M459 62h1M461 62h1M464 62h10M475 62h4M459 63h3M463 63h10M474 63h3M478 63h2M483 63h1M453 64h1M457 64h1M459 64h1M461 64h1M463 64h13M482 64h1M453 65h1M457 65h2M461 65h15M479 65h1M447 66h1M454 66h1M459 66h1M461 66h15M477 66h1M479 66h1M450 67h1M453 67h1M455 67h1M457 67h1M460 67h15M477 67h5M450 68h1M456 68h22M479 68h2M434 69h1M454 69h2M458 69h19M478 69h1M438 70h1M451 70h2M456 70h21M449 71h1M453 71h2M457 71h20M482 71h1M451 72h1M453 72h4M458 72h18M479 72h1M454 73h21M478 73h2M482 73h1M439 74h1M447 74h1M450 74h2M455 74h21M478 74h1M480 74h1M453 75h22M477 75h2M484 75h1M453 76h1M455 76h20M477 76h1M481 76h1M448 77h1M450 77h3M454 77h22M481 77h1M440 78h1M452 78h26M447 79h1M451 79h22M474 79h1M448 80h3M452 80h21M474 80h2M452 81h21M474 81h1M478 81h1M483 81h1M439 82h1M448 82h25M482 82h1M443 83h1M445 83h1M448 83h1M450 83h25M446 84h1M448 84h24M474 84h1M477 84h1M479 84h1M447 85h2M450 85h21M472 85h1M474 85h1M439 86h1M449 86h26M476 86h1M480 86h1M447 87h3M451 87h19M473 87h1M482 87h1M439 88h2M444 88h1M449 88h23M474 88h1M435 89h1M443 89h1M446 89h25M472 89h1M474 89h1M434 90h1M441 90h1M447 90h22M470 90h2M476 90h1M435 91h1M441 91h2M445 91h1M447 91h26M479 91h1M432 92h1M438 92h1M442 92h29M443 93h1M446 93h24M471 93h1M482 93h1M443 94h2M448 94h19M468 94h1M472 94h1M477 94h1M430 95h1M439 95h1M442 95h25M471 95h2M483 95h1M440 96h1M442 96h1M445 96h24M472 96h1M437 97h1M440 97h1M442 97h3M446 97h22M430 98h1M433 98h1M437 98h3M442 98h1M445 98h22M468 98h2M472 98h1M474 98h1M484 98h1M434 99h1M436 99h1M442 99h1M444 99h23M468 99h1M471 99h1M475 99h2M431 100h1M439 100h1M441 100h2M444 100h20M465 100h1M467 100h2M438 101h1M440 101h1M442 101h25M472 101h1M436 102h1M439 102h27M467 102h1M431 103h1M436 103h1M438 103h2M441 103h25M468 103h1M433 104h1M436 104h2M440 104h1M442 104h20M463 104h4M438 105h1M441 105h21M463 105h2M466 105h1M476 105h1M436 106h3M442 106h20M463 106h1M470 106h1M431 107h1M435 107h1M438 107h2M441 107h1M444 107h21M466 107h1M468 107h3M436 108h2M441 108h19M461 108h3M467 108h1M431 109h1M433 109h1M437 109h1M439 109h24M469 109h1M432 110h1M436 110h21M458 110h3M462 110h1M467 110h1M469 110h1M431 111h1M433 111h1M438 111h21M462 111h2M467 111h1M432 112h1M435 112h2M438 112h17M456 112h1M458 112h1M460 112h1M463 112h1M466 112h1M469 112h1M430 113h1M434 113h2M437 113h2M440 113h2M443 113h15M459 113h1M461 113h2M473 113h1M430 114h1M432 114h1M435 114h1M437 114h1M440 114h2M443 114h14M459 114h1M464 114h1M468 114h1M431 115h1M435 115h8M444 115h5M450 115h2M453 115h4M468 115h1M478 115h1M431 116h1M436 116h1M438 116h8M447 116h2M450 116h2M453 116h1M456 116h2M463 116h1M431 117h2M434 117h1M436 117h5M446 117h3M451 117h6M458 117h1M460 117h1M430 118h2M439 118h2M442 118h2M445 118h2M449 118h1M451 118h1M453 118h2M458 118h1M463 118h1M433 119h1M439 119h5M445 119h1M447 119h2M450 119h1M452 119h1M454 119h1M458 119h1" stroke="#3f55b2"/>
<path d="M344 138h1M351 138h1M362 138h2M365 138h1M369 138h1M375 138h1M377 138h1M341 139h1M343 139h1M351 139h1M353 139h1M359 139h1M367 139h1M378 139h1M343 140h1M345 140h1M348 140h1M360 140h1M362 140h2M366 140h1M368 140h1M371 140h1M375 140h1M377 140h1M339 141h1M346 141h1M352 141h1M356 141h1M360 141h1M364 141h2M373 141h2M379 141h1M381 141h1M339 142h1M342 142h1M345 142h1M354 142h3M359 142h1M361 142h4M370 142h1M372 142h1M343 143h1M348 143h1M353 143h1M355 143h4M363 143h1M367 143h1M375 143h1M382 143h1M336 144h1M347 144h2M352 144h1M354 144h1M357 144h1M359 144h1M361 144h1M372 144h1M377 144h1M345 145h1M347 145h1M350 145h1M354 145h2M362 145h1M369 145h1M373 145h1M328 146h1M331 146h1M339 146h1M341 146h1M343 146h1M346 146h1M352 146h1M355 146h1M358 146h3M362 146h1M364 146h2M368 146h1M373 146h1M380 146h1M331 147h1M337 147h1M345 147h1M348 147h1M350 147h1M355 147h1M358 147h1M362 147h2M366 147h2M369 147h1M372 147h2M375 147h1M378 147h1M336 148h1M340 148h2M344 148h1M346 148h3M350 148h1M353 148h1M358 148h2M362 148h2M366 148h1M368 148h2M372 148h3M336 149h1M342 149h1M344 149h1M347 149h1M365 149h1M367 149h1M369 149h1M371 149h3M375 149h2M380 149h1M334 150h1M337 150h2M367 150h2M370 150h2M373 150h5M379 150h2M325 151h1M333 151h1M337 151h1M339 151h2M369 151h2M372 151h1M374 151h3M378 151h2M327 152h2M337 152h1M371 152h3M375 152h2M380 152h1M337 153h1M374 153h4M383 153h1M334 154h1M336 154h1M374 154h1M377 154h2M380 154h1M328 155h1M332 155h1M375 155h4M382 155h1M330 156h2M378 156h1M381 156h1M377 157h1M380 157h2M329 158h1M378 158h1M381 158h1M383 158h1M383 159h1M325 160h1M330 160h1M380 160h3M326 161h1M329 161h1M380 161h1M326 162h1M328 162h1M382 162h2M381 163h3M327 164h1M329 164h1M383 164h1M326 165h2M383 165h1M383 166h1M383 167h1M327 168h1M383 169h1M325 170h2M383 170h1M383 171h1M325 172h2M383 172h1M326 173h1M383 173h1M383 174h1M383 175h1M325 176h1M383 176h1M326 177h1M383 177h1M325 178h1M382 178h2M326 179h1M381 179h1M383 179h1M325 180h1M381 180h2M327 181h1M380 181h2M326 182h1M330 182h1M379 182h4M379 183h1M381 183h1M383 183h1M330 184h1M378 184h1M380 184h1M327 185h1M334 185h1M376 185h4M327 186h2M332 186h1M336 186h1M376 186h4M382 186h1M330 187h1M335 187h2M338 187h1M372 187h2M375 187h2M378 187h2M382 187h1M326 188h1M340 188h2M368 188h1M374 188h2M380 188h1M382 188h1" stroke="#17782f"/>
</g>
<g clip-path="url(#gclip)">
<path d="M81.1 93.0L86.6 89.1L89.3 85.6L93.4 82.7L97.9 80.4L102.4 78.6L106.4 77.2L110.1 76.0L113.4 75.1L116.4 74.4L119.2 73.8L121.7 73.4L124.0 73.1L126.2 72.8L128.2 72.5L130.1 72.3L131.8 72.1L133.5 71.9L135.1 71.8L136.7 71.6L138.2 71.5L139.7 71.4L141.2 71.3L142.8 71.2L144.3 71.1L145.9 71.0L147.5 70.9L149.2 70.8L151.0 70.8L152.9 70.7L154.9 70.7L157.0 70.7L159.4 70.7L162.0 70.8L164.8 71.0L168.0 71.2L171.5 71.6L175.4 72.2L179.2 73.2L182.9 74.8L186.0 77.0L188.1 79.8L188.9 83.0L188.8 86.4L188.1 89.8L186.9 93.0L185.6 96.0L184.1 98.9L182.5 101.6L180.8 104.1L178.9 106.4L176.8 108.5L174.8 110.4L172.7 112.2L170.7 113.8L168.7 115.4L166.8 116.9L164.9 118.4L162.9 119.8L161.0 121.1L159.0 122.4L156.9 123.6L154.8 124.6L152.6 125.6L150.4 126.6L148.1 127.5L145.7 128.4L143.3 129.4L140.7 130.3L138.0 131.5L134.9 133.0L131.7 134.3L128.3 135.1L124.8 135.7L120.9 136.2L116.8 136.7L112.2 137.2L107.1 137.7L101.3 138.2L94.7 138.7L87.2 139.0L80.4 137.8L79.7 132.0L79.4 126.3L79.3 120.9L79.3 115.8L79.3 111.0L79.5 106.3L79.7 101.8L80.0 97.3Z" fill="#909090"/>
<path d="M89.5 93.0L93.4 89.6L96.3 86.6L100.1 84.1L104.1 82.1L107.9 80.6L111.4 79.4L114.5 78.4L117.3 77.6L119.8 76.9L122.1 76.3L124.3 75.9L126.2 75.5L128.0 75.1L129.7 74.8L131.4 74.6L132.9 74.3L134.4 74.1L135.8 73.9L137.2 73.7L138.6 73.5L139.9 73.3L141.3 73.2L142.7 73.0L144.1 72.9L145.6 72.8L147.1 72.7L148.6 72.6L150.3 72.5L152.0 72.5L153.9 72.5L155.9 72.5L158.0 72.5L160.4 72.6L163.0 72.7L165.9 73.0L169.1 73.3L172.6 73.9L176.2 74.8L179.6 76.3L182.5 78.3L184.5 80.8L185.5 83.8L185.3 86.9L184.3 90.0L182.9 93.0L181.4 95.8L179.9 98.3L178.3 100.7L176.6 102.9L174.8 104.9L173.0 106.8L171.1 108.5L169.2 110.0L167.4 111.5L165.6 112.8L163.8 114.1L162.1 115.3L160.3 116.5L158.6 117.6L156.8 118.6L155.0 119.7L153.2 120.6L151.3 121.5L149.3 122.4L147.3 123.3L145.3 124.2L143.1 125.1L140.8 126.0L138.4 127.0L135.8 128.3L132.9 129.4L129.9 130.3L126.6 131.0L123.1 131.7L119.3 132.4L115.0 133.0L110.3 133.5L105.1 134.0L99.4 134.1L93.6 133.6L88.5 131.9L86.8 127.5L85.9 122.8L85.6 118.1L85.7 113.5L86.0 109.1L86.4 104.8L87.1 100.7L88.0 96.8Z" fill="#9b9b9b"/>
<path d="M97.8 93.0L100.3 90.1L103.3 87.6L106.8 85.5L110.2 83.9L113.5 82.6L116.3 81.6L118.9 80.7L121.2 80.0L123.2 79.4L125.1 78.8L126.8 78.3L128.4 77.9L129.9 77.5L131.3 77.1L132.6 76.8L133.9 76.5L135.2 76.2L136.5 76.0L137.7 75.7L138.9 75.5L140.1 75.3L141.4 75.1L142.6 74.9L143.9 74.8L145.2 74.6L146.6 74.5L148.1 74.4L149.6 74.3L151.2 74.2L152.9 74.2L154.7 74.2L156.6 74.3L158.8 74.4L161.2 74.5L163.8 74.7L166.6 75.1L169.8 75.6L173.2 76.4L176.3 77.7L179.0 79.5L180.9 81.8L182.0 84.5L181.7 87.4L180.4 90.3L178.9 93.0L177.3 95.5L175.6 97.7L174.0 99.8L172.4 101.7L170.7 103.5L169.1 105.1L167.4 106.5L165.8 107.8L164.1 109.1L162.5 110.2L160.9 111.2L159.3 112.2L157.7 113.2L156.2 114.0L154.6 114.9L153.1 115.7L151.5 116.6L149.9 117.4L148.3 118.2L146.6 119.0L144.8 119.9L143.0 120.8L141.0 121.6L138.9 122.6L136.6 123.5L134.2 124.5L131.5 125.4L128.5 126.4L125.3 127.2L121.8 128.0L117.9 128.7L113.6 129.3L109.0 129.7L104.2 129.5L99.9 128.3L96.5 126.1L94.0 123.0L92.5 119.3L92.0 115.3L92.1 111.2L92.6 107.2L93.4 103.3L94.6 99.7L96.0 96.2Z" fill="#a7a7a7"/>
<path d="M107.3 93.0L109.6 90.7L112.2 88.8L114.8 87.2L117.4 85.9L119.8 84.9L121.9 84.0L123.8 83.3L125.5 82.7L127.1 82.2L128.5 81.7L129.9 81.3L131.1 80.9L132.3 80.6L133.4 80.3L134.5 80.0L135.6 79.8L136.6 79.5L137.6 79.3L138.5 79.1L139.5 79.0L140.5 78.8L141.5 78.6L142.5 78.5L143.5 78.3L144.6 78.2L145.7 78.1L146.9 78.0L148.1 77.9L149.4 77.8L150.8 77.7L152.3 77.7L154.0 77.6L155.8 77.6L157.9 77.7L160.2 77.8L162.7 77.9L165.6 78.2L168.7 78.8L171.9 79.7L174.9 81.0L177.3 82.9L178.6 85.2L178.4 87.9L177.4 90.5L176.0 93.0L174.5 95.3L172.9 97.3L171.3 99.2L169.7 101.0L168.1 102.5L166.5 103.9L165.0 105.2L163.4 106.4L161.9 107.4L160.4 108.4L158.9 109.3L157.5 110.2L156.0 110.9L154.6 111.7L153.2 112.4L151.8 113.1L150.4 113.7L148.9 114.3L147.5 114.9L146.0 115.5L144.4 116.1L142.8 116.7L141.2 117.3L139.4 117.9L137.5 118.6L135.5 119.2L133.3 119.8L130.9 120.4L128.3 121.0L125.5 121.5L122.4 122.0L119.0 122.4L115.3 122.7L111.4 122.6L107.6 121.9L104.2 120.5L101.5 118.3L99.6 115.5L98.7 112.3L98.7 108.8L99.7 105.1L101.2 101.7L103.0 98.5L105.1 95.6Z" fill="#b3b3b3"/>
<path d="M116.7 93.0L119.0 91.4L121.0 90.1L122.9 88.9L124.6 88.0L126.1 87.2L127.4 86.5L128.7 85.9L129.9 85.4L131.0 85.0L132.0 84.6L132.9 84.2L133.9 84.0L134.7 83.7L135.6 83.5L136.4 83.3L137.2 83.1L137.9 82.9L138.7 82.7L139.4 82.6L140.1 82.4L140.9 82.3L141.6 82.2L142.4 82.0L143.2 81.9L144.0 81.8L144.8 81.7L145.7 81.6L146.7 81.5L147.7 81.4L148.8 81.3L150.0 81.1L151.3 81.0L152.9 80.9L154.6 80.9L156.6 80.8L158.8 80.8L161.4 80.9L164.3 81.1L167.5 81.6L170.9 82.5L173.7 83.9L175.1 86.0L175.2 88.3L174.4 90.7L173.1 93.0L171.7 95.1L170.2 97.0L168.7 98.7L167.1 100.2L165.5 101.6L164.0 102.8L162.5 103.9L161.0 104.9L159.6 105.8L158.3 106.6L156.9 107.4L155.6 108.1L154.3 108.7L153.0 109.3L151.7 109.9L150.5 110.4L149.2 110.8L147.9 111.3L146.6 111.6L145.4 112.0L144.0 112.4L142.7 112.7L141.3 113.0L139.9 113.3L138.4 113.6L136.8 113.9L135.1 114.2L133.3 114.5L131.4 114.8L129.3 115.1L126.9 115.3L124.4 115.5L121.6 115.7L118.5 115.7L115.2 115.5L111.8 114.9L108.9 113.7L106.7 111.8L105.4 109.3L105.4 106.3L106.8 103.1L109.0 100.0L111.5 97.3L114.2 94.9Z" fill="#bfbfbf"/>
<path d="M121.8 93.0L123.2 91.7L124.6 90.5L125.8 89.6L127.0 88.7L128.1 87.9L129.1 87.3L130.2 86.7L131.1 86.2L132.1 85.8L132.9 85.4L133.8 85.1L134.6 84.8L135.4 84.6L136.2 84.3L136.9 84.2L137.6 84.0L138.3 83.8L139.0 83.7L139.6 83.5L140.3 83.4L141.0 83.3L141.7 83.1L142.3 83.0L143.1 82.9L143.8 82.8L144.6 82.7L145.4 82.6L146.3 82.5L147.2 82.4L148.2 82.3L149.3 82.2L150.6 82.1L151.9 82.0L153.5 81.9L155.3 81.9L157.3 81.9L159.6 82.0L162.2 82.3L165.0 82.8L167.5 83.7L169.4 85.2L170.1 87.0L169.8 89.1L168.9 91.1L167.7 93.0L166.4 94.7L165.0 96.2L163.6 97.6L162.2 98.8L160.8 99.9L159.4 100.8L158.1 101.6L156.8 102.3L155.6 102.9L154.4 103.4L153.3 103.9L152.2 104.4L151.2 104.8L150.2 105.1L149.2 105.5L148.2 105.8L147.3 106.0L146.3 106.3L145.4 106.5L144.4 106.8L143.5 107.0L142.5 107.2L141.5 107.3L140.5 107.5L139.4 107.7L138.3 107.8L137.1 108.0L135.9 108.1L134.6 108.3L133.1 108.4L131.5 108.5L129.8 108.6L127.9 108.6L125.9 108.6L123.6 108.4L121.4 108.0L119.2 107.2L117.5 106.0L116.3 104.4L115.9 102.5L116.4 100.4L117.4 98.2L118.8 96.3L120.3 94.5Z" fill="#cccccc"/>
<path d="M126.9 93.0L127.4 92.0L128.1 91.0L128.7 90.2L129.4 89.4L130.1 88.7L130.9 88.0L131.6 87.5L132.4 87.0L133.2 86.6L133.9 86.2L134.7 85.9L135.4 85.7L136.1 85.4L136.8 85.2L137.4 85.1L138.0 84.9L138.7 84.7L139.3 84.6L139.9 84.5L140.5 84.3L141.1 84.2L141.7 84.1L142.3 84.0L143.0 83.9L143.6 83.8L144.3 83.7L145.1 83.6L145.9 83.5L146.7 83.4L147.6 83.2L148.6 83.2L149.8 83.1L151.0 83.0L152.4 82.9L154.0 82.9L155.8 83.0L157.8 83.1L160.1 83.4L162.4 83.9L164.2 84.9L165.0 86.4L165.0 88.1L164.4 89.9L163.4 91.5L162.3 93.0L161.1 94.3L159.8 95.5L158.6 96.5L157.4 97.4L156.1 98.1L154.9 98.7L153.7 99.2L152.6 99.6L151.5 99.9L150.6 100.2L149.7 100.4L148.9 100.6L148.1 100.8L147.3 100.9L146.7 101.1L146.0 101.2L145.3 101.3L144.7 101.4L144.1 101.4L143.5 101.5L142.9 101.6L142.3 101.6L141.7 101.7L141.1 101.7L140.5 101.7L139.8 101.7L139.2 101.7L138.5 101.7L137.7 101.7L137.0 101.7L136.1 101.7L135.3 101.6L134.3 101.5L133.3 101.4L132.1 101.3L130.9 101.1L129.6 100.8L128.3 100.3L127.2 99.6L126.4 98.7L126.0 97.6L125.9 96.4L126.0 95.2L126.4 94.1Z" fill="#d9d9d9"/>
</g>
<path d="M140.2 154.4C140.8 152.8 141.7 150.9 143.7 149.2C145.7 147.5 148.0 145.9 152.3 144.0C156.6 142.1 163.8 139.7 169.6 138.0C175.4 136.3 181.1 134.6 186.9 133.7C192.7 132.8 199.9 132.5 204.2 132.8C208.5 133.1 211.0 133.8 212.9 135.4C214.8 137.0 215.4 139.4 215.4 142.3C215.4 145.2 214.8 149.5 212.9 152.7C211.0 155.9 208.5 159.0 204.2 161.3C199.9 163.6 192.7 165.5 186.9 166.5C181.1 167.5 175.4 167.5 169.6 167.4C163.8 167.3 156.6 166.6 152.3 165.7C148.0 164.8 145.7 163.4 143.7 162.2C141.7 161.0 140.8 160.0 140.2 158.7C139.6 157.4 139.6 156.0 140.2 154.4Z" fill="#8a8a8a"/>
<path d="M168.5 151.0L169.5 149.6L170.5 148.3L171.7 147.1L172.9 146.1L174.1 145.2L175.4 144.5L176.7 143.9L177.9 143.4L179.0 143.0L180.1 142.7L181.0 142.3L182.0 142.1L182.8 141.8L183.7 141.6L184.5 141.4L185.2 141.2L186.0 141.1L186.7 140.9L187.4 140.7L188.2 140.6L188.9 140.4L189.6 140.3L190.4 140.1L191.2 140.0L192.0 139.8L192.8 139.7L193.7 139.6L194.7 139.5L195.7 139.3L196.8 139.2L198.0 139.2L199.3 139.1L200.6 139.2L202.0 139.4L203.4 139.7L204.8 140.3L206.0 141.0L207.1 141.9L207.9 143.0L208.4 144.3L208.5 145.7L208.4 147.1L208.1 148.5L207.7 149.8L207.2 151.0L206.7 152.2L206.1 153.3L205.4 154.3L204.7 155.2L204.0 156.1L203.2 156.9L202.5 157.6L201.6 158.3L200.8 158.9L200.0 159.4L199.1 159.8L198.3 160.2L197.4 160.5L196.6 160.8L195.8 161.0L195.0 161.3L194.2 161.4L193.4 161.6L192.7 161.8L191.9 161.9L191.2 162.0L190.4 162.1L189.6 162.2L188.8 162.3L188.0 162.4L187.1 162.5L186.2 162.6L185.3 162.6L184.3 162.7L183.2 162.7L182.1 162.7L180.8 162.7L179.5 162.7L178.0 162.6L176.5 162.3L174.9 162.0L173.4 161.4L172.0 160.6L170.7 159.6L169.4 158.5L168.5 157.2L167.8 155.7L167.6 154.2L167.9 152.5Z" fill="#a0a0a0"/>
<path d="M170.5 151.0L171.3 149.7L172.1 148.5L173.0 147.4L174.0 146.4L175.1 145.6L176.2 144.9L177.4 144.3L178.5 143.8L179.6 143.4L180.6 143.1L181.5 142.8L182.4 142.5L183.2 142.3L184.0 142.1L184.8 141.9L185.5 141.7L186.2 141.6L186.9 141.4L187.6 141.2L188.3 141.1L188.9 140.9L189.6 140.8L190.4 140.6L191.1 140.5L191.9 140.4L192.7 140.2L193.5 140.1L194.5 140.0L195.4 139.8L196.5 139.7L197.7 139.6L198.9 139.6L200.2 139.7L201.6 139.8L202.9 140.2L204.2 140.7L205.4 141.4L206.5 142.2L207.3 143.3L207.9 144.5L208.0 145.8L207.9 147.2L207.6 148.5L207.2 149.8L206.7 151.0L206.2 152.1L205.6 153.2L205.0 154.2L204.3 155.1L203.6 156.0L202.9 156.7L202.1 157.5L201.4 158.1L200.6 158.7L199.8 159.2L198.9 159.6L198.1 160.0L197.3 160.3L196.5 160.6L195.7 160.8L194.9 161.0L194.1 161.2L193.4 161.4L192.6 161.5L191.9 161.6L191.1 161.8L190.4 161.9L189.6 162.0L188.8 162.0L188.0 162.1L187.2 162.2L186.3 162.2L185.4 162.3L184.5 162.3L183.4 162.4L182.3 162.4L181.1 162.4L179.8 162.3L178.4 162.2L176.9 162.0L175.5 161.6L174.1 160.9L172.9 160.1L171.8 159.1L170.9 158.0L170.1 156.7L169.7 155.3L169.6 153.9L170.0 152.4Z" fill="#999999"/>
<ellipse cx="162.8" cy="154.9" rx="1.2" ry="2" fill="#a4a4a4"/>
<path d="M64.0 173.0C64.4 170.9 65.3 168.1 66.9 166.1C68.5 164.1 71.1 162.2 73.8 161.0C76.5 159.8 80.0 159.1 83.1 158.7C86.2 158.3 89.4 158.2 92.3 158.7C95.2 159.2 97.9 160.3 100.4 161.5C102.9 162.7 105.6 164.4 107.3 166.1C109.0 167.8 110.3 169.8 110.7 171.9C111.1 174.0 110.5 176.5 109.6 178.8C108.6 181.1 107.1 184.0 105.0 185.8C102.9 187.6 100.2 189.0 96.9 189.8C93.6 190.7 89.1 191.0 85.4 190.9C81.8 190.8 77.9 190.2 75.0 189.2C72.1 188.1 69.8 186.3 68.1 184.6C66.4 182.9 65.3 180.7 64.6 178.8C63.9 176.9 63.6 175.1 64.0 173.0Z" fill="url(#sg)"/>
<path d="M83 56.5H225.5V175H145.5L137.5 136H83Z" fill="none" stroke="#000" stroke-width="2"/>
<rect x="54.5" y="22.5" width="198.5" height="173" fill="none" stroke="#222" stroke-width="1.4"/>
<path d="M66.5 195.5V204.5M101.5 195.5V204.5M168.5 195.5V204.5M235.5 195.5V204.5M68.5 195.5V201.5M70.5 195.5V201.5M71.5 195.5V201.5M73.5 195.5V201.5M75.5 195.5V201.5M77.5 195.5V201.5M87.5 195.5V201.5M89.5 195.5V201.5M91.5 195.5V201.5M92.5 195.5V201.5M94.5 195.5V201.5M96.5 195.5V201.5M98.5 195.5V201.5M100.5 195.5V201.5M81.5 195.5V204.5M82.5 195.5V204.5M84.5 195.5V204.5M78.5 195.5V201.5M86.5 195.5V201.5M117.5 195.5V201.5M129.5 195.5V201.5M138.5 195.5V201.5M145.5 195.5V201.5M151.5 195.5V201.5M156.5 195.5V201.5M160.5 195.5V201.5M163.5 195.5V201.5M188.5 195.5V201.5M200.5 195.5V201.5M208.5 195.5V201.5M215.5 195.5V201.5M220.5 195.5V201.5M225.5 195.5V201.5M228.5 195.5V201.5M232.5 195.5V201.5M46.8 44.5H54.5M46.8 98.5H54.5M46.8 155.5H54.5M46.8 180.5H54.5M46.8 178.5H54.5M46.8 182.5H54.5M50.0 28.5H54.5M50.0 82.5H54.5M50.0 72.5H54.5M50.0 66.5H54.5M50.0 60.5H54.5M50.0 56.5H54.5M50.0 53.5H54.5M50.0 49.5H54.5M50.0 47.5H54.5M50.0 138.5H54.5M50.0 128.5H54.5M50.0 121.5H54.5M50.0 115.5H54.5M50.0 110.5H54.5M50.0 107.5H54.5M50.0 103.5H54.5M50.0 100.5H54.5M50.0 157.5H54.5M50.0 159.5H54.5M50.0 161.5H54.5M50.0 163.5H54.5M50.0 165.5H54.5M50.0 166.5H54.5M50.0 168.5H54.5M50.0 170.5H54.5M50.0 172.5H54.5M50.0 174.5H54.5M50.0 176.5H54.5M50.0 178.5H54.5M50.0 180.5H54.5M50.0 182.5H54.5M50.0 184.5H54.5M50.0 185.5H54.5M50.0 187.5H54.5M50.0 189.5H54.5M50.0 191.5H54.5M50.0 193.5H54.5" stroke="#000" stroke-width="1" fill="none"/>
<g font-family='"Liberation Sans", sans-serif' font-size="9.2" fill="#000" stroke="#000" stroke-width="0.22">
<text x="66.0" y="214.8" text-anchor="middle">-10<tspan font-size="7.2" dy="-4.7">2</tspan></text>
<text x="82.5" y="214.8" text-anchor="middle">0</text>
<text x="102.6" y="214.8" text-anchor="middle">10<tspan font-size="7.2" dy="-4.7">2</tspan></text>
<text x="168.5" y="214.8" text-anchor="middle">10<tspan font-size="7.2" dy="-4.7">3</tspan></text>
<text x="235.4" y="214.8" text-anchor="middle">10<tspan font-size="7.2" dy="-4.7">4</tspan></text>
<text x="0" y="0" text-anchor="middle" transform="translate(44.9 44.0) rotate(-90)">10<tspan font-size="7.2" dy="-6.4">4</tspan></text>
<text x="0" y="0" text-anchor="middle" transform="translate(44.9 98.0) rotate(-90)">10<tspan font-size="7.2" dy="-6.4">3</tspan></text>
<text x="0" y="0" text-anchor="middle" transform="translate(44.9 155.2) rotate(-90)">10<tspan font-size="7.2" dy="-7.0">2</tspan></text>
<text x="0" y="0" text-anchor="middle" transform="translate(44.7 180.8) rotate(-90)">0</text>
</g>
<text x="135.5" y="226.8" font-family='"Liberation Sans", sans-serif' font-size="14.2" text-anchor="middle">CD33</text>
<text x="0" y="0" font-family='"Liberation Sans", sans-serif' font-size="14.2" text-anchor="middle" transform="translate(24.3 107.5) rotate(-90)">CD34</text>
<text x="4" y="19.2" font-family='"Liberation Sans", sans-serif' font-size="24.5" font-weight="bold">A</text>
<path d="M237.5 134.5H304" stroke="#000" stroke-width="1.4"/><path d="M309 134.5L300.5 132.6L302 134.5L300.5 136.4Z" fill="#000"/>
<path d="M327.4 172.7C327.6 169.5 329.1 165.1 330.8 161.9C332.5 158.8 334.8 155.8 337.5 153.8C340.2 151.8 343.5 150.7 346.9 149.8C350.3 148.9 354.1 148.3 357.7 148.5C361.3 148.7 365.4 149.9 368.5 151.2C371.6 152.5 374.3 154.3 376.5 156.5C378.7 158.7 380.8 161.9 381.9 164.6C383.0 167.3 383.5 170.0 383.3 172.7C383.1 175.4 382.2 178.5 380.6 180.8C379.0 183.2 377.2 185.4 373.8 186.8C370.4 188.2 364.9 189.2 360.4 189.5C355.9 189.8 350.9 189.4 346.9 188.8C342.9 188.2 339.1 187.4 336.2 186.1C333.3 184.8 330.9 183.0 329.4 180.8C327.9 178.6 327.2 175.8 327.4 172.7Z" fill="#17782f"/>
<ellipse cx="381.8" cy="170" rx="1.8" ry="4" fill="#a9b5aa"/>
<ellipse cx="354" cy="170.3" rx="19.5" ry="15" fill="#278a3f"/>
<ellipse cx="352.6" cy="170.3" rx="14" ry="12" fill="#42a351"/>
<ellipse cx="352.2" cy="170.6" rx="10.5" ry="9.5" fill="#6bbd70"/>
<ellipse cx="352.2" cy="170.7" rx="7.5" ry="7.5" fill="#a6d8a2"/>
<ellipse cx="352.3" cy="170.8" rx="4.8" ry="4.8" fill="#d6eed3"/>
<rect x="323.5" y="137" width="62" height="53.5" fill="none" stroke="#000" stroke-width="2"/>
<rect x="428.5" y="51.5" width="57.5" height="69.3" fill="none" stroke="#000" stroke-width="2"/>
<rect x="321.0" y="22.8" width="196.0" height="172.0" fill="none" stroke="#222" stroke-width="1.4"/>
<path d="M327.5 194.8V203.5M362.5 194.8V203.5M416.5 194.8V203.5M468.5 194.8V203.5M323.5 194.8V199.5M330.5 194.8V199.5M334.5 194.8V199.5M337.5 194.8V199.5M341.5 194.8V199.5M344.5 194.8V199.5M348.5 194.8V199.5M351.5 194.8V199.5M355.5 194.8V199.5M358.5 194.8V199.5M378.5 194.8V199.5M387.5 194.8V199.5M393.5 194.8V199.5M399.5 194.8V199.5M403.5 194.8V199.5M406.5 194.8V199.5M409.5 194.8V199.5M412.5 194.8V199.5M432.5 194.8V199.5M441.5 194.8V199.5M447.5 194.8V199.5M452.5 194.8V199.5M456.5 194.8V199.5M460.5 194.8V199.5M463.5 194.8V199.5M465.5 194.8V199.5M483.5 194.8V199.5M492.5 194.8V199.5M499.5 194.8V199.5M503.5 194.8V199.5M508.5 194.8V199.5M511.5 194.8V199.5M514.5 194.8V199.5M313.0 26.5H321.0M313.0 85.5H321.0M313.0 146.5H321.0M313.0 171.5H321.0M316.3 67.5H321.0M316.3 57.5H321.0M316.3 50.5H321.0M316.3 44.5H321.0M316.3 39.5H321.0M316.3 35.5H321.0M316.3 32.5H321.0M316.3 29.5H321.0M316.3 128.5H321.0M316.3 117.5H321.0M316.3 109.5H321.0M316.3 103.5H321.0M316.3 98.5H321.0M316.3 94.5H321.0M316.3 90.5H321.0M316.3 87.5H321.0M316.3 149.5H321.0M316.3 151.5H321.0M316.3 154.5H321.0M316.3 156.5H321.0M316.3 159.5H321.0M316.3 161.5H321.0M316.3 164.5H321.0M316.3 166.5H321.0M316.3 169.5H321.0M316.3 174.5H321.0M316.3 176.5H321.0M316.3 179.5H321.0M316.3 182.5H321.0M316.3 184.5H321.0M316.3 187.5H321.0M316.3 189.5H321.0M316.3 192.5H321.0" stroke="#000" stroke-width="1" fill="none"/>
<g font-family='"Liberation Sans", sans-serif' font-size="9.2" fill="#000" stroke="#000" stroke-width="0.22">
<text x="328.5" y="213.9" text-anchor="middle">0</text>
<text x="362.5" y="213.9" text-anchor="middle">10<tspan font-size="7.2" dy="-4.7">2</tspan></text>
<text x="416.5" y="213.9" text-anchor="middle">10<tspan font-size="7.2" dy="-4.7">3</tspan></text>
<text x="468.0" y="213.9" text-anchor="middle">10<tspan font-size="7.2" dy="-4.7">4</tspan></text>
<text x="0" y="0" text-anchor="middle" transform="translate(310.2 25.8) rotate(-90)">10<tspan font-size="7.2" dy="-5.4">4</tspan></text>
<text x="0" y="0" text-anchor="middle" transform="translate(310.2 85.4) rotate(-90)">10<tspan font-size="7.2" dy="-5.4">3</tspan></text>
<text x="0" y="0" text-anchor="middle" transform="translate(310.2 147.1) rotate(-90)">10<tspan font-size="7.2" dy="-5.4">2</tspan></text>
<text x="0" y="0" text-anchor="middle" transform="translate(310.2 172.3) rotate(-90)">0</text>
</g>
<text x="389.2" y="228.5" font-family='"Liberation Sans", sans-serif' font-size="13.7">gp91<tspan dy="-4.2">phox</tspan></text>
<text x="0" y="0" font-family='"Liberation Sans", sans-serif' font-size="14.2" text-anchor="middle" transform="translate(296 106.5) rotate(-90)">CD14</text>
<text x="2.5" y="253.3" font-family='"Liberation Sans", sans-serif' font-size="24.5" font-weight="bold">B</text>
<path d="M65.2 270.4V449M64.3 439.7H346.3" stroke="#000" stroke-width="1.8" fill="none"/>
<path d="M55.3 429.5H65.2M55.3 389.5H65.2M55.3 350.5H65.2M55.3 310.5H65.2M55.3 270.5H65.2M158.5 439.7V449.0M251.5 439.7V449.0M344.5 439.7V449.0" stroke="#000" stroke-width="1.8" fill="none"/>
<g font-family='"Liberation Sans", sans-serif' font-size="15.2" fill="#000">
<text x="0" y="0" text-anchor="end" transform="translate(49 435.2) scale(1,1.08)">0</text>
<text x="0" y="0" text-anchor="end" transform="translate(49 395.4) scale(1,1.08)">20</text>
<text x="0" y="0" text-anchor="end" transform="translate(49 355.6) scale(1,1.08)">40</text>
<text x="0" y="0" text-anchor="end" transform="translate(49 315.8) scale(1,1.08)">60</text>
<text x="0" y="0" text-anchor="end" transform="translate(49 276.0) scale(1,1.08)">80</text>
<text x="0" y="0" text-anchor="middle" transform="translate(66.0 462.8) scale(1,1.08)">0</text>
<text x="0" y="0" text-anchor="middle" transform="translate(159.1 462.8) scale(1,1.08)">10</text>
<text x="0" y="0" text-anchor="middle" transform="translate(252.2 462.8) scale(1,1.08)">20</text>
<text x="0" y="0" text-anchor="middle" transform="translate(345.3 462.8) scale(1,1.08)">30</text>
</g>
<text x="0" y="0" font-family='"Liberation Sans", sans-serif' font-size="13.65" text-anchor="middle" transform="translate(204 478.6) scale(1,1.08)">Time (min)</text>
<text x="0" y="0" font-family='"Liberation Sans", sans-serif' font-size="14.2" text-anchor="middle" transform="translate(25 361.9) rotate(-90)">ROS production (MCPM)</text>
<path d="M65.2 429.6L79.66 429.62L80.04 427.64L80.40 425.66L80.75 423.69L81.09 421.71L81.42 419.74L81.74 417.77L82.04 415.81L82.33 413.84L82.62 411.88L82.89 409.92L83.16 407.96L83.41 406.00L83.66 404.05L83.90 402.09L84.14 400.14L84.36 398.19L84.58 396.24L84.80 394.29L85.00 392.34L85.21 390.39L85.41 388.44L85.60 386.50L85.79 384.55L85.98 382.61L86.17 380.66L86.35 378.72L86.53 376.78L86.71 374.83L86.89 372.89L87.07 370.95L87.25 369.00L87.43 367.06L87.61 365.12L87.79 363.17L87.97 361.23L88.16 359.29L88.35 357.34L88.54 355.40L88.73 353.45L88.93 351.50L89.13 349.56L89.34 347.61L89.56 345.66L89.78 343.71L90.00 341.75L90.24 339.80L90.48 337.85L90.72 335.89L90.98 333.93L91.24 331.97L91.52 330.01L91.80 328.05L92.10 326.08L92.40 324.12L92.71 322.15L93.04 320.18L93.38 318.20L93.73 316.23L94.09 314.25L94.47 312.27L94.86 310.28L95.26 308.30L95.68 306.31L96.11 304.32L96.56 302.33L97.04 300.34L97.56 298.37L98.14 296.43L98.77 294.53L99.48 292.66L100.27 290.85L101.16 289.10L102.15 287.42L103.26 285.81L104.49 284.32L105.81 282.98L107.24 281.81L108.74 280.87L110.32 280.18L111.96 279.79L113.65 279.70L115.37 279.89L117.11 280.32L118.83 280.95L120.52 281.77L122.17 282.73L123.77 283.82L125.31 285.01L126.81 286.30L128.27 287.68L129.70 289.12L131.09 290.62L132.46 292.16L133.80 293.72L135.12 295.30L136.43 296.88L137.72 298.47L139.00 300.06L140.27 301.65L141.52 303.24L142.76 304.83L144.00 306.43L145.23 308.02L146.44 309.61L147.66 311.20L148.87 312.79L150.07 314.37L151.27 315.95L152.48 317.53L153.68 319.10L154.88 320.66L156.09 322.22L157.30 323.77L158.51 325.31L159.73 326.84L160.95 328.37L162.19 329.88L163.43 331.38L164.68 332.87L165.95 334.35L167.23 335.81L168.52 337.26L169.83 338.70L171.15 340.12L172.49 341.53L173.85 342.91L175.23 344.29L176.63 345.64L178.05 346.97L179.49 348.29L180.95 349.59L182.44 350.87L183.94 352.12L185.46 353.36L187.00 354.58L188.56 355.78L190.14 356.96L191.73 358.11L193.35 359.25L194.97 360.36L196.62 361.45L198.28 362.52L199.95 363.57L201.64 364.60L203.34 365.60L205.06 366.58L206.78 367.54L208.53 368.47L210.28 369.38L212.04 370.27L213.82 371.13L215.61 371.96L217.40 372.78L219.21 373.56L221.02 374.33L222.85 375.06L224.68 375.77L226.52 376.46L228.36 377.12L230.22 377.75L232.08 378.37L233.95 378.96L235.82 379.53L237.70 380.07L239.59 380.60L241.49 381.11L243.38 381.60L245.29 382.06L247.20 382.52L249.11 382.95L251.03 383.37L252.96 383.77L254.89 384.16L256.82 384.53L258.76 384.89L260.70 385.24L262.64 385.57L264.59 385.89L266.54 386.20L268.50 386.51L270.45 386.80L272.41 387.08L274.37 387.36L276.34 387.62L278.30 387.88L280.27 388.14L282.23 388.39L284.20 388.63L286.17 388.87L288.14 389.11L290.11 389.34L292.08 389.58L294.05 389.81L296.02 390.04L297.99 390.27L299.96 390.50L301.93 390.73L303.90 390.97L305.86 391.21L307.82 391.45L309.79 391.69L311.75 391.95L313.70 392.20L315.66 392.47L317.61 392.74L319.56 393.01L321.51 393.30L323.45 393.59L325.39 393.90L327.32 394.22L329.25 394.54L331.18 394.88L333.10 395.23L335.02 395.60L336.93 395.97L338.84 396.37L340.74 396.77L342.63 397.20L344.52 397.64" stroke="#3b4ca3" stroke-width="1.9" fill="none" stroke-linejoin="round"/>
<path d="M65.20 429.60L72.36 429.55L79.52 429.49L86.68 429.44L93.85 429.39L101.01 429.34L108.17 429.29L115.33 429.25L122.49 429.22L129.65 429.18L136.82 429.15L143.98 429.13L151.14 429.12L158.30 429.11L165.46 429.10L172.62 429.10L179.78 429.11L186.95 429.12L194.11 429.14L201.27 429.17L208.43 429.19L215.59 429.23L222.75 429.27L229.92 429.31L237.08 429.36L244.24 429.41L251.40 429.46L258.56 429.51L265.72 429.57L272.88 429.60L280.05 429.60L287.21 429.60L294.37 429.60L301.53 429.60L308.69 429.60L315.85 429.60L323.02 429.60L330.18 429.60L337.34 429.60L344.50 429.60" stroke="#1f8a42" stroke-width="2" fill="none"/>
<rect x="178" y="267.7" width="12" height="12" fill="#3c52b0"/><rect x="178" y="285.4" width="12" height="12" fill="#22b04a"/>
<g font-family='"Liberation Sans", sans-serif' font-size="14.2" fill="#000">
<text x="0" y="0" transform="translate(193 277.1) scale(1,1.06)">CD14<tspan dy="-6.1">+</tspan><tspan dy="6.1"> leukemic cells</tspan></text>
<text x="0" y="0" transform="translate(193 295) scale(1,1.06)">CD34<tspan dy="-6.1">+</tspan><tspan dy="6.1"> Leukemic cells</tspan></text>
</g>
<text x="375" y="260" font-family='"Liberation Sans", sans-serif' font-size="24.5" font-weight="bold">C</text>
<path d="M456.2 267.7V438.6M449.5 438.6H516" stroke="#000" stroke-width="1.8" fill="none"/>
<path d="M450.2 438.5H456.2M450.2 404.5H456.2M450.2 370.5H456.2M450.2 336.5H456.2M450.2 302.5H456.2M450.2 268.5H456.2M471.5 438.6V445.5M500.5 438.6V445.5" stroke="#000" stroke-width="1.8" fill="none"/>
<g font-family='"Liberation Sans", sans-serif' font-size="12.6" fill="#000">
<text x="0" y="0" text-anchor="end" transform="translate(449.3 443.3) scale(1,1.06)">0</text>
<text x="0" y="0" text-anchor="end" transform="translate(449.3 409.3) scale(1,1.06)">200</text>
<text x="0" y="0" text-anchor="end" transform="translate(449.3 375.3) scale(1,1.06)">400</text>
<text x="0" y="0" text-anchor="end" transform="translate(449.3 341.3) scale(1,1.06)">600</text>
<text x="0" y="0" text-anchor="end" transform="translate(449.3 307.3) scale(1,1.06)">800</text>
<text x="0" y="0" text-anchor="end" transform="translate(449.3 273.3) scale(1,1.06)">1000</text>
</g>
<text x="0" y="0" font-family='"Liberation Sans", sans-serif' font-size="14.2" text-anchor="middle" transform="translate(415.5 361.9) rotate(-90)">ROS production (MCPM)</text>
<rect x="491.3" y="321.3" width="19.8" height="117.3" fill="#3c52b0" stroke="#000" stroke-width="1.8"/>
<path d="M501 321.3V284.8M495.8 284.8H506.2" stroke="#000" stroke-width="1.8"/>
<path d="M460.5 438.6L462 437.2H468.5L469.5 436.2H473L474 437.2H480.5L482 438.6Z" fill="#000"/>
<path d="M467.5 275.9V270.3H501.6V275.9" stroke="#000" stroke-width="1.5" fill="none"/>
<text x="484.3" y="266" font-family='"Liberation Sans", sans-serif' font-size="10" text-anchor="middle">*</text>
<g font-family='"Liberation Sans", sans-serif' fill="#000">
<text x="0" y="0" font-size="13.9" text-anchor="end" transform="translate(475.3 451.6) rotate(-45)">Immature M4</text>
<text x="0" y="0" font-size="13.5" text-anchor="end" transform="translate(503.2 453.8) rotate(-45)">Mature M4</text>
</g>
</svg></body></html>
